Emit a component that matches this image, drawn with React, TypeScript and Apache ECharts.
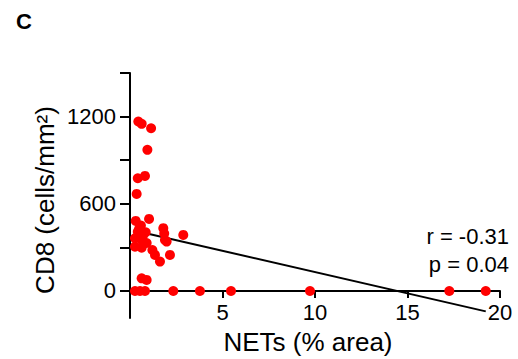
import React, { useEffect, useRef } from "react";
import * as echarts from "echarts";

// NETs (% area) vs CD8 (cells/mm²)
const netsX: number[] = [
  0.45, 0.63, 1.14, 0.94, 0.42, 0.81, 0.36,
  0.31, 1.03, 0.59, 1.8, 0.42, 0.85, 1.89, 2.88, 0.27, 0.63, 0.27, 0.63,
  1.21, 1.35, 2.16, 1.62, 1.85, 1.98, 0.5, 0.7, 0.9,
  0.63, 0.9,
  0.27, 0.54, 0.81, 2.34, 3.78, 5.46, 9.73, 17.26, 19.23,
];
const cd8Y: number[] = [
  1166, 1150, 1120, 971, 776, 792, 668,
  482, 496, 450, 432, 408, 404, 351, 386, 363, 351, 305, 298,
  282, 248, 248, 202, 395, 340, 430, 380, 330,
  87, 76,
  0, 0, 0, 0, 0, 0, 0, 0, 0,
];

// regression line
const fitIntercept = 423;
const fitSlope = -29.3;
const statLines: string[] = ["r = -0.31", "p = 0.04"];

const yTicks: number[] = [0, 300, 600, 900, 1200, 1500];
const yLabels: number[] = [0, 600, 1200];
const xLabels: number[] = [5, 10, 15, 20];
const yMin = -186;
const yMax = 1500;

const FONT = "'Liberation Sans', Arial, Helvetica, sans-serif";

export default function App() {
  const ref = useRef<HTMLDivElement>(null);
  useEffect(() => {
    if (!ref.current) return;
    const chart = echarts.init(ref.current, undefined, { renderer: "svg" });
    const points = netsX.map((x, i) => [x, cd8Y[i]]);
    const xmin = Math.min(...netsX);
    const xmax = Math.max(...netsX);
    const fit = [
      [xmin, fitIntercept + fitSlope * xmin],
      [xmax, fitIntercept + fitSlope * xmax],
    ];
    const gridTop = 73;
    const gridBottom = 41;
    const gridH = 359 - gridTop - gridBottom;
    const zeroOffset = -((0 - yMin) / (yMax - yMin)) * gridH;
    const axisStyle = { lineStyle: { color: "#000", width: 2 } };
    chart.setOption({
      animation: false,
      backgroundColor: "#fff",
      grid: { left: 130, right: 18, top: gridTop, bottom: gridBottom, containLabel: false },
      xAxis: {
        type: "value",
        min: 0,
        max: 20,
        interval: 5,
        offset: zeroOffset,
        axisLine: { show: true, onZero: false, ...axisStyle },
        axisTick: { show: true, length: 7, inside: false, ...axisStyle },
        axisLabel: {
          customValues: xLabels,
          color: "#000",
          fontSize: 22,
          fontFamily: FONT,
          margin: 11,
        },
        splitLine: { show: false },
      },
      yAxis: {
        type: "value",
        min: yMin,
        max: yMax,
        axisLine: { show: true, onZero: false, ...axisStyle },
        axisTick: { show: true, length: 10, customValues: yTicks, ...axisStyle },
        axisLabel: {
          customValues: yLabels,
          formatter: (v: number) => String(v),
          color: "#000",
          fontSize: 22,
          fontFamily: FONT,
          margin: 14,
        },
        splitLine: { show: false },
      },
      series: [
        {
          type: "line",
          data: fit,
          showSymbol: false,
          symbol: "none",
          lineStyle: { color: "#000", width: 2 },
          z: 2,
        },
        {
          type: "scatter",
          data: points,
          symbolSize: 10,
          itemStyle: { color: "#ff0000", opacity: 1 },
          z: 3,
        },
      ],
      graphic: [
        {
          type: "text",
          left: 16,
          top: 10,
          style: { text: "C", fontSize: 22, fontWeight: "bold", fontFamily: FONT, fill: "#000" },
        },
        {
          type: "text",
          x: 509,
          y: 236,
          style: {
            text: statLines[0],
            fontSize: 22,
            fontFamily: FONT,
            fill: "#000",
            align: "right",
            verticalAlign: "middle",
          },
        },
        {
          type: "text",
          x: 509,
          y: 264,
          style: {
            text: statLines[1],
            fontSize: 22,
            fontFamily: FONT,
            fill: "#000",
            align: "right",
            verticalAlign: "middle",
          },
        },
        {
          type: "text",
          x: 308,
          y: 342,
          style: {
            text: "NETs (% area)",
            fontSize: 26,
            fontFamily: FONT,
            fill: "#000",
            align: "center",
            verticalAlign: "middle",
          },
        },
        {
          type: "text",
          x: 45,
          y: 200,
          rotation: Math.PI / 2,
          style: {
            text: "CD8 (cells/mm²)",
            fontSize: 26,
            fontFamily: FONT,
            fill: "#000",
            align: "center",
            verticalAlign: "middle",
          },
        },
      ],
    });
    return () => chart.dispose();
  }, []);
  return <div ref={ref} style={{ width: 518, height: 359, position: "absolute", left: 0, top: 0 }} />;
}
